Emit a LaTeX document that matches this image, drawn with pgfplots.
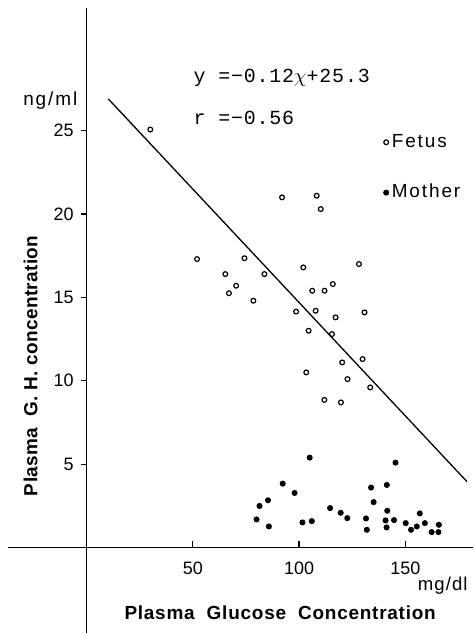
\documentclass[border=0pt]{standalone}
\usepackage{fontspec}
\setmainfont{Liberation Sans}
\newfontfamily\spaced[LetterSpace=10]{Liberation Sans}
\newfontfamily\eqfont[LetterSpace=4]{Liberation Mono}
\usepackage{pgfplots}
\pgfplotsset{compat=1.18}

\begin{document}
\begin{tikzpicture}
\begin{axis}[
    scale only axis, width=236.5pt, height=317pt,
    xmin=-40.4, xmax=181.7, ymin=-5.15, ymax=32.8,
    axis lines=middle,
    axis line style={-, line width=0.7pt},
    x axis line style={shorten <=3.5pt},
    y axis line style={shorten >=3.5pt},
    xtick={50,100,150}, ytick={5,10,15,20,25},
    xtick align=inside, ytick align=outside,
    major tick length=3pt,
    tick style={line width=0.6pt, black},
    tick label style={font=\fontsize{9}{10}\selectfont},
    x tick label style={yshift=-3.5pt},
    /pgf/number format/assume math mode=true,
    clip=false,
    legend style={at={(axis cs:139.6,25.05)}, anchor=north west, draw=none, fill=none,
                  font=\fontsize{9.5}{10}\selectfont\spaced, row sep=13pt, inner sep=0pt,
                  nodes={inner xsep=1.5pt}},
    legend cell align=left,
    legend image code/.code={\draw[#1] plot coordinates {(0pt,0pt)};},
]
% Fetus (open circles)
\addplot[only marks, mark=o, mark size=1.2pt, line width=0.6pt] coordinates {
    (30,25.07)(92,21.0)(108.3,21.1)(110.2,20.3)(52,17.3)(74.3,17.35)
    (65.3,16.4)(67,15.25)(70.4,15.7)(83.7,16.4)(78.5,14.8)(102,16.8)
    (128.2,17.0)(106.2,15.4)(112,15.4)(115.9,15.8)(98.6,14.15)(107.8,14.2)
    (117.2,13.8)(130.8,14.1)(104.5,13.0)(115.5,12.8)(120.3,11.1)(129.9,11.3)
    (103.4,10.5)(122.8,10.1)(133.5,9.6)(111.9,8.85)(119.7,8.7)
};
\addlegendentry{Fetus}
% Mother (filled dots)
\addplot[only marks, mark=*, mark size=1.3pt] coordinates {
    (105,5.39)(145.4,5.09)(92.3,3.83)(97.9,3.27)(133.9,3.59)(141.3,3.75)
    (81.4,2.49)(85.4,2.83)(135.1,2.72)(114.6,2.36)(119.6,2.08)(122.7,1.76)
    (141.5,2.2)(156.8,2.04)(80,1.68)(85.8,1.26)(101.6,1.5)(106,1.58)
    (131.5,1.74)(131.9,1.06)(140.7,1.62)(141.2,1.2)(144.7,1.64)(150.2,1.46)
    (152.7,1.06)(155.4,1.26)(159.2,1.46)(162.4,0.92)(165.6,0.92)(165.8,1.36)
};
\addlegendentry{Mother}
% regression line
\addplot[line width=0.65pt, forget plot] coordinates {(10.3,26.9)(179,3.95)};

\node[anchor=base west, inner sep=0pt, font=\fontsize{10}{11}\selectfont\eqfont] at (axis cs:50.2,27.9)
    {y =−0.12\(\chi\)+25.3};
\node[anchor=base west, inner sep=0pt, font=\fontsize{10}{11}\selectfont\eqfont] at (axis cs:50.2,25.4)
    {r =−0.56};
\node[anchor=base east, inner sep=0pt, font=\fontsize{9.5}{10}\selectfont\spaced] at (axis cs:-4.2,26.5) {ng/ml};
\node[anchor=base east, inner sep=0pt, font=\fontsize{9.3}{10}\selectfont\addfontfeatures{LetterSpace=6}] at (axis cs:179.5,-2.6) {mg/dl};
\node[anchor=base, font=\fontsize{9.5}{10}\selectfont\bfseries\addfontfeatures{LetterSpace=4}] at (axis cs:91.1,-4.31)
    {Plasma\ \ Glucose\ \ Concentration};
\node[rotate=90, font=\fontsize{9.5}{10}\selectfont\bfseries\addfontfeatures{LetterSpace=2}] at (axis cs:-26.3,10.9)
    {Plasma\ \ G.\ H.\ concentration};
\path (axis cs:-40.4,-5.15) rectangle (axis cs:181.7,32.8);
\end{axis}
\end{tikzpicture}
\end{document}
